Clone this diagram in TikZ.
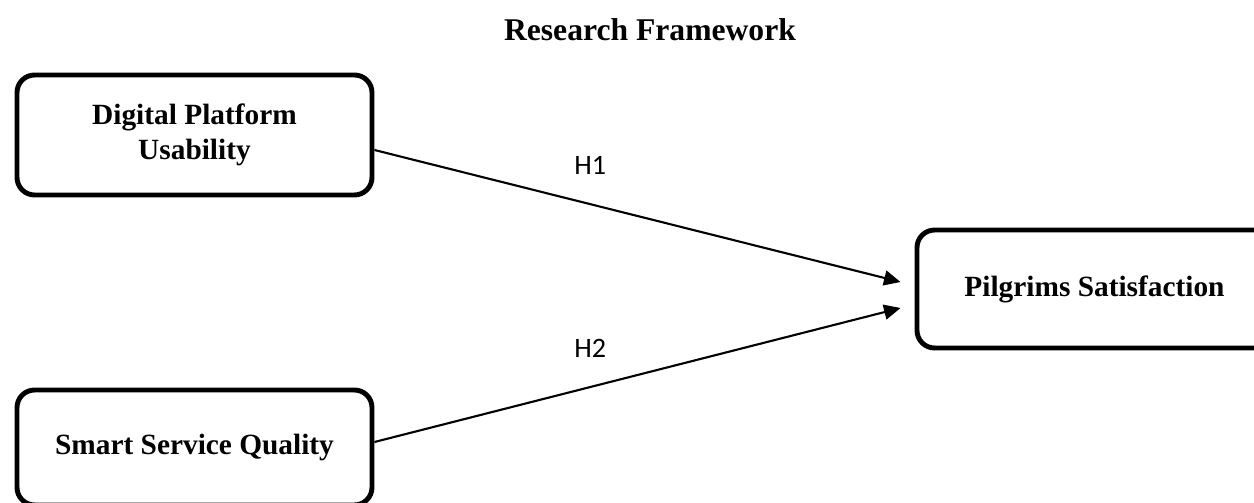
\documentclass[tikz,border=0pt]{standalone}
\usepackage{fontspec}
\setmainfont{Liberation Serif}
\newfontfamily\hfont{Carlito}
\usetikzlibrary{arrows.meta, positioning}

\begin{document}
\begin{tikzpicture}[thick,
 var node/.style={draw, line width=2.8pt, rounded corners=10pt, minimum width=7.1cm,
   align=center, font=\bfseries\fontsize{16.7}{20}\selectfont},
 path arrow/.style={line width=1.2pt, -{Triangle[length=0.33cm, width=0.3cm]}},
 hyp label/.style={font=\hfont\fontsize{16}{18}\selectfont}]

  \useasboundingbox (0,0) rectangle (25.08,10.04);
  \clip (0,0) rectangle (25.08,10.04);

  \node (title) at (13.0,9.44) {\bfseries\fontsize{18}{21}\selectfont Research Framework};

  \node[var node, minimum height=2.4cm] (dpu) at (3.89,7.34) {Digital Platform\\Usability};
  \node[var node, minimum height=2.3cm] (ssq) at (3.89,1.09) {Smart Service Quality};
  \node[var node, minimum height=2.36cm] (pls) at (21.89,4.26) {Pilgrims Satisfaction};

  \coordinate (h1end) at ([xshift=-0.28cm, yshift=0.14cm]pls.west);
  \coordinate (h2end) at ([xshift=-0.28cm, yshift=-0.38cm]pls.west);

  \draw[path arrow] ([yshift=-0.3cm]dpu.east) -- node[hyp label, pos=0.41, above=0.45cm] (h1) {H1} (h1end);
  \draw[path arrow] ([yshift=0.11cm]ssq.east) -- node[hyp label, pos=0.41, above=0.45cm] (h2) {H2} (h2end);
\end{tikzpicture}
\end{document}
